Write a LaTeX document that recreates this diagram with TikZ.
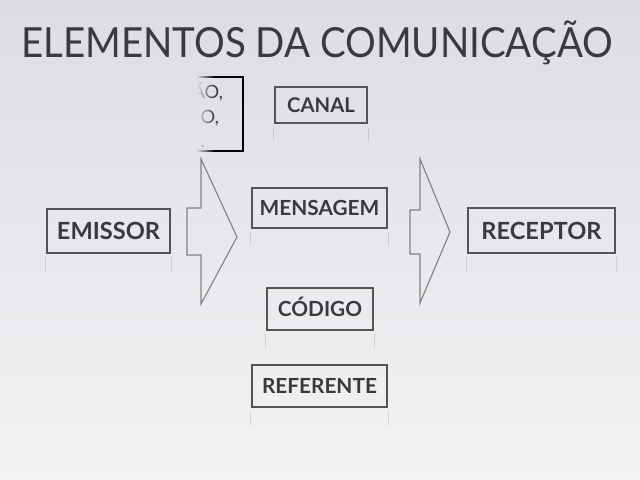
\documentclass[tikz,border=0pt]{standalone}
\usepackage{fontspec}
\setmainfont{Lato}
\definecolor{bgtop}{RGB}{219,221,227}
\definecolor{bgbot}{RGB}{243,243,244}
\definecolor{inkgray}{RGB}{58,58,60}
\definecolor{framegray}{RGB}{84,84,84}
\definecolor{arrowgray}{RGB}{130,130,130}
\newlength{\px}
\setlength{\px}{0.025cm}

\begin{document}
\begin{tikzpicture}[x=0.025cm,y=-0.025cm,
  bgshade/.style={top color=bgtop,bottom color=bgbot},
  tag/.style={draw=framegray,line width=2.1pt,text=inkgray,inner sep=0pt,text depth=0pt},
  mirror/.style={draw=framegray,line width=1.2pt,opacity=0.18},
  blockarrow/.style={draw=arrowgray,line width=0.8pt,line join=miter}]
\useasboundingbox (0,0) rectangle (640,480);
\shade[bgshade] (0,0) rectangle (640,480);
% title
\node[anchor=base,text=inkgray,font=\fontsize{29.5}{32}\selectfont] (title) at (317,57) {\scalebox{0.927}[1]{ELEMENTOS DA COMUNICAÇÃO}};
% partly hidden box
\node[anchor=base east,text=inkgray,font=\fontsize{13}{14}\selectfont] (t1) at (228,98) {ÃO,};
\node[anchor=base east,text=inkgray,font=\fontsize{13}{14}\selectfont] (t2) at (224,123) {O,};
\node[anchor=base east,text=inkgray,font=\fontsize{13}{14}\selectfont] (t3) at (210,147) {.};
\draw[black,line width=1.1pt] (185,77) -- (243,77) -- (243,151) -- (185,151);
\begin{scope}
  \clip (170,70) rectangle (196,158);
  \shade[bgshade] (0,0) rectangle (640,480);
\end{scope}
\foreach \i [evaluate=\i as \op using 1-\i/18] in {0,...,17}{
  \begin{scope}
    \clip (196+\i,70) rectangle (197+\i,158);
    \shade[bgshade,opacity=\op] (0,0) rectangle (640,480);
  \end{scope}}
% boxes
\node[tag,minimum width=123\px,minimum height=44\px,text height=17\px,font=\bfseries\fontsize{16.8}{17}\selectfont] (emissor) at (108.5,231) {EMISSOR};
\node[tag,minimum width=135\px,minimum height=40\px,text height=15\px,font=\bfseries\fontsize{14.8}{15}\selectfont] (mensagem) at (319.5,208) {MENSAGEM};
\node[tag,minimum width=147\px,minimum height=45\px,text height=17\px,font=\bfseries\fontsize{16.8}{17}\selectfont] (receptor) at (541.5,230.5) {RECEPTOR};
\node[tag,minimum width=92\px,minimum height=36\px,text height=14\px,font=\bfseries\fontsize{14.4}{15}\selectfont] (canal) at (321,105) {CANAL};
\node[tag,minimum width=106\px,minimum height=42\px,text height=15\px,font=\bfseries\fontsize{14.8}{15}\selectfont] (codigo) at (320,309) {CÓDIGO};
\node[tag,minimum width=135\px,minimum height=42\px,text height=15\px,font=\bfseries\fontsize{14.8}{15}\selectfont] (referente) at (319.5,386) {REFERENTE};
\foreach \n in {emissor,mensagem,receptor,canal,codigo,referente}
  \draw[mirror] (\n.south west) ++(0,3) -- ++(0,14) (\n.south east) ++(0,3) -- ++(0,14);
% block arrows
\draw[blockarrow] (187,208) -- (201,208) -- (201,159) -- (237,237) -- (201,304) -- (201,255) -- (187,255) -- cycle;
\draw[blockarrow] (410,210) -- (420,210) -- (420,159) -- (450,232) -- (420,303) -- (420,254) -- (410,254) -- cycle;
\end{tikzpicture}
\end{document}
